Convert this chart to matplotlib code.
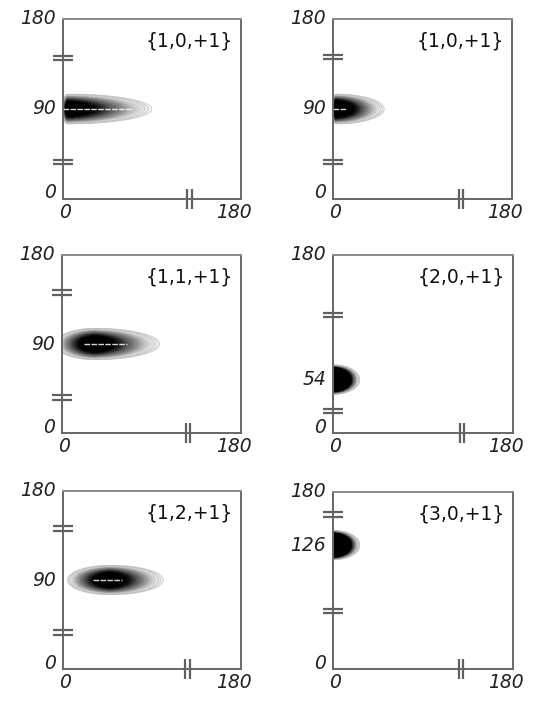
import numpy as np
import matplotlib
matplotlib.use("Agg")
import matplotlib.pyplot as plt

# ---- data ----
labels = ["{1,0,+1}", "{1,0,+1}", "{1,1,+1}", "{2,0,+1}", "{1,2,+1}", "{3,0,+1}"]
peak_x = [5, 3, 33, 0, 48, 0]          # location of density maximum
peak_y = [90, 90, 90, 54, 90, 126]     # centre angle of the blob
reach_left = [6, 4, 40, 2, 44, 2]      # extent of the blob left of the peak
reach_right = [86, 49, 66, 27, 54, 27] # extent of the blob right of the peak
half_height = [15, 15, 16, 15, 15, 15] # vertical half extent
peak_level = [1.0, 1.1, 1.0, 2.2, 1.0, 2.2]  # relative peak density
ridge_x0 = [0, 0, 22, 0, 30, 0]
ridge_x1 = [70, 14, 65, 0, 60, 0]
ytick_mid = [90, 90, 90, 54, 90, 126]
ybreak_lo = [37, 37, 36, 22, 37, 59]
ybreak_hi = [141, 142, 142, 119, 142, 157]
xbreak = [128, 129, 127, 129, 126, 128]
axis_max = 180

fig = plt.figure(figsize=(5.34, 7.02), dpi=100)
W, H = 534, 702
boxes = [(63, 19, 178, 180), (333, 19, 179, 180),
         (62, 255, 179, 178), (333, 255, 180, 178),
         (63, 491, 178, 178), (333, 492, 180, 177)]

gx = np.linspace(0, axis_max, 541)
gy = np.linspace(0, axis_max, 541)
X, Y = np.meshgrid(gx, gy)
spine_col = "#666666"
tick_font = dict(family="DejaVu Sans", style="italic", fontsize=13.5, color="#222222")

for i in range(6):
    l, t, w, h = boxes[i]
    ax = fig.add_axes([l / W, (H - t - h) / H, w / W, h / H])
    ax.set_xlim(0, axis_max)
    ax.set_ylim(0, axis_max)
    # density blob
    dx = X - peak_x[i]
    rx = np.where(dx < 0, reach_left[i], reach_right[i])
    r2 = (dx / rx) ** 2 + ((Y - peak_y[i]) / half_height[i]) ** 2
    taper = 1 - 0.6 * np.clip(dx / reach_right[i], 0, 1) - 0.3 * np.clip(-dx / reach_left[i], 0, 1)
    Z = np.clip(1 - r2, 0, None) * taper * peak_level[i]
    levels = np.linspace(0.01, 2.2, 60)
    ax.contourf(X, Y, Z, levels=levels, cmap="Greys", vmin=-0.05, vmax=0.75, extend="max")
    ax.contour(X, Y, Z, levels=levels[:3], colors="#b8b8b8", linewidths=0.45, alpha=0.8)
    if ridge_x1[i] > ridge_x0[i]:
        ax.plot([ridge_x0[i], ridge_x1[i]], [peak_y[i], peak_y[i]], color="white",
                lw=1.0, alpha=0.85, dashes=(4, 1))
    # spines
    for s in ax.spines.values():
        s.set_color(spine_col)
        s.set_linewidth(1.4)
    ax.spines["top"].set_color("#8a8a8a")
    ax.spines["right"].set_color("#6a6a6a")
    ax.set_xticks([])
    ax.set_yticks([])
    # break marks
    for yb in (ybreak_lo[i], ybreak_hi[i]):
        ax.plot([0, 0], [yb - 2.2, yb + 2.2], marker="_", markersize=15, mew=1.6,
                linestyle="none", color="#606060", clip_on=False)
    ax.plot([xbreak[i] - 2.2, xbreak[i] + 2.2], [0, 0], marker="|", markersize=15, mew=1.6,
            linestyle="none", color="#606060", clip_on=False)
    # tick labels
    ax.text(-7, axis_max + 1, str(axis_max), ha="right", va="center", **tick_font)
    ax.text(-7, ytick_mid[i], str(ytick_mid[i]), ha="right", va="center", **tick_font)
    ax.text(-7, 6, "0", ha="right", va="center", **tick_font)
    ax.text(2, -14, "0", ha="center", va="center", **tick_font)
    ax.text(axis_max - 7, -14, str(axis_max), ha="center", va="center", **tick_font)
    # panel label
    ax.text(0.955, 0.875, labels[i], transform=ax.transAxes, ha="right", va="center",
            fontsize=13.5, color="#111111", family="DejaVu Sans")

fig.savefig("out.png", dpi=100)
